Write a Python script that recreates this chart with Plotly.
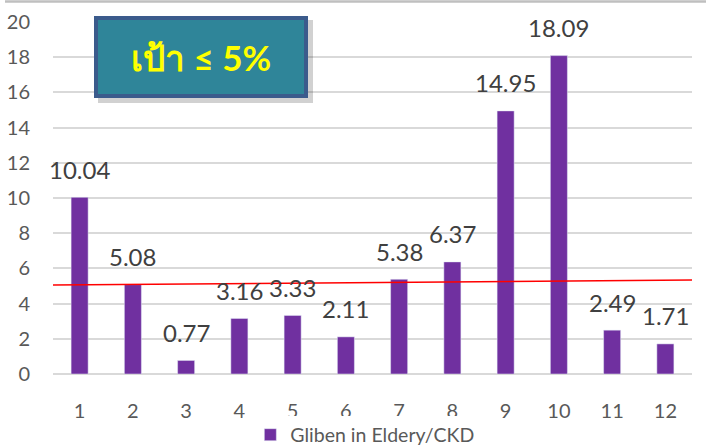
import plotly.graph_objects as go

months = ["1", "2", "3", "4", "5", "6", "7", "8", "9", "10", "11", "12"]
values = [10.04, 5.08, 0.77, 3.16, 3.33, 2.11, 5.38, 6.37, 14.95, 18.09, 2.49, 1.71]
series_name = "Gliben in Eldery/CKD"
target_start = 5.06
target_end = 5.34
y_ticks = [0, 2, 4, 6, 8, 10, 12, 14, 16, 18, 20]

FONT = "Lato, 'Noto Sans', sans-serif"
TXT = "#595959"
LBL = "#404040"

xpos = list(range(1, len(months) + 1))

fig = go.Figure()
fig.add_trace(go.Bar(
    x=xpos, y=values, name=series_name,
    marker=dict(color="#7030A0"), width=0.32,
    showlegend=True,
))

# value labels above bars
for x, v in zip(xpos, values):
    fig.add_annotation(x=x, y=v, text=f"{v:.2f}", showarrow=False,
                       yanchor="middle", yshift=28,
                       font=dict(family=FONT, size=24, color=LBL))

# target line
fig.add_shape(type="line", xref="x", yref="y",
              x0=0.41, x1=12.76, y0=target_start, y1=target_end,
              line=dict(color="#FF0000", width=1.5))

# target box shadow + box
fig.add_shape(type="rect", xref="paper", yref="paper",
              x0=(98 - 53) / 639, x1=(313 - 53) / 639,
              y0=(374 - 103) / 352, y1=(374 - 20) / 352,
              line=dict(width=0), fillcolor="rgba(0,0,0,0.18)", layer="above")
fig.add_shape(type="rect", xref="paper", yref="paper",
              x0=(96 - 53) / 639, x1=(306 - 53) / 639,
              y0=(374 - 96) / 352, y1=(374 - 18) / 352,
              line=dict(color="#3B5B8C", width=4), fillcolor="#2F8599", layer="above")
fig.add_annotation(xref="paper", yref="paper",
                   x=(201 - 53) / 639, y=(374 - 57) / 352,
                   text="<b>เป้า ≤ 5%</b>", showarrow=False,
                   xanchor="center", yanchor="middle",
                   font=dict(family=FONT, size=35, color="#FFFF00"))

# top border of chart area
fig.add_shape(type="line", xref="paper", yref="paper",
              x0=-48 / 639, x1=(706 - 53) / 639,
              y0=(374 - 1.5) / 352, y1=(374 - 1.5) / 352,
              line=dict(color="#BFBFBF", width=2.5))

fig.update_layout(
    width=706, height=448,
    margin=dict(l=53, r=14, t=22, b=74, autoexpand=False),
    paper_bgcolor="white", plot_bgcolor="white",
    font=dict(family=FONT, color=TXT),
    xaxis=dict(
        tickmode="array", tickvals=xpos, ticktext=months,
        range=[0.5, 12.5], showgrid=False, zeroline=False,
        showline=False, ticks="", ticklabelstandoff=23,
        tickfont=dict(family=FONT, size=20, color=TXT),
    ),
    yaxis=dict(
        range=[0, 20], tickvals=y_ticks, showgrid=True,
        gridcolor="#D9D9D9", gridwidth=1.5, zeroline=True,
        zerolinecolor="#D9D9D9", zerolinewidth=1.5,
        ticks="", ticklabelstandoff=22,
        tickfont=dict(family=FONT, size=20, color=TXT),
    ),
    legend=dict(orientation="h", x=0.488, xanchor="center",
                y=-(435 - 374) / 352, yanchor="middle",
                font=dict(family=FONT, size=19.5, color=TXT),
                itemwidth=30),
)

fig.write_html("out.html")
